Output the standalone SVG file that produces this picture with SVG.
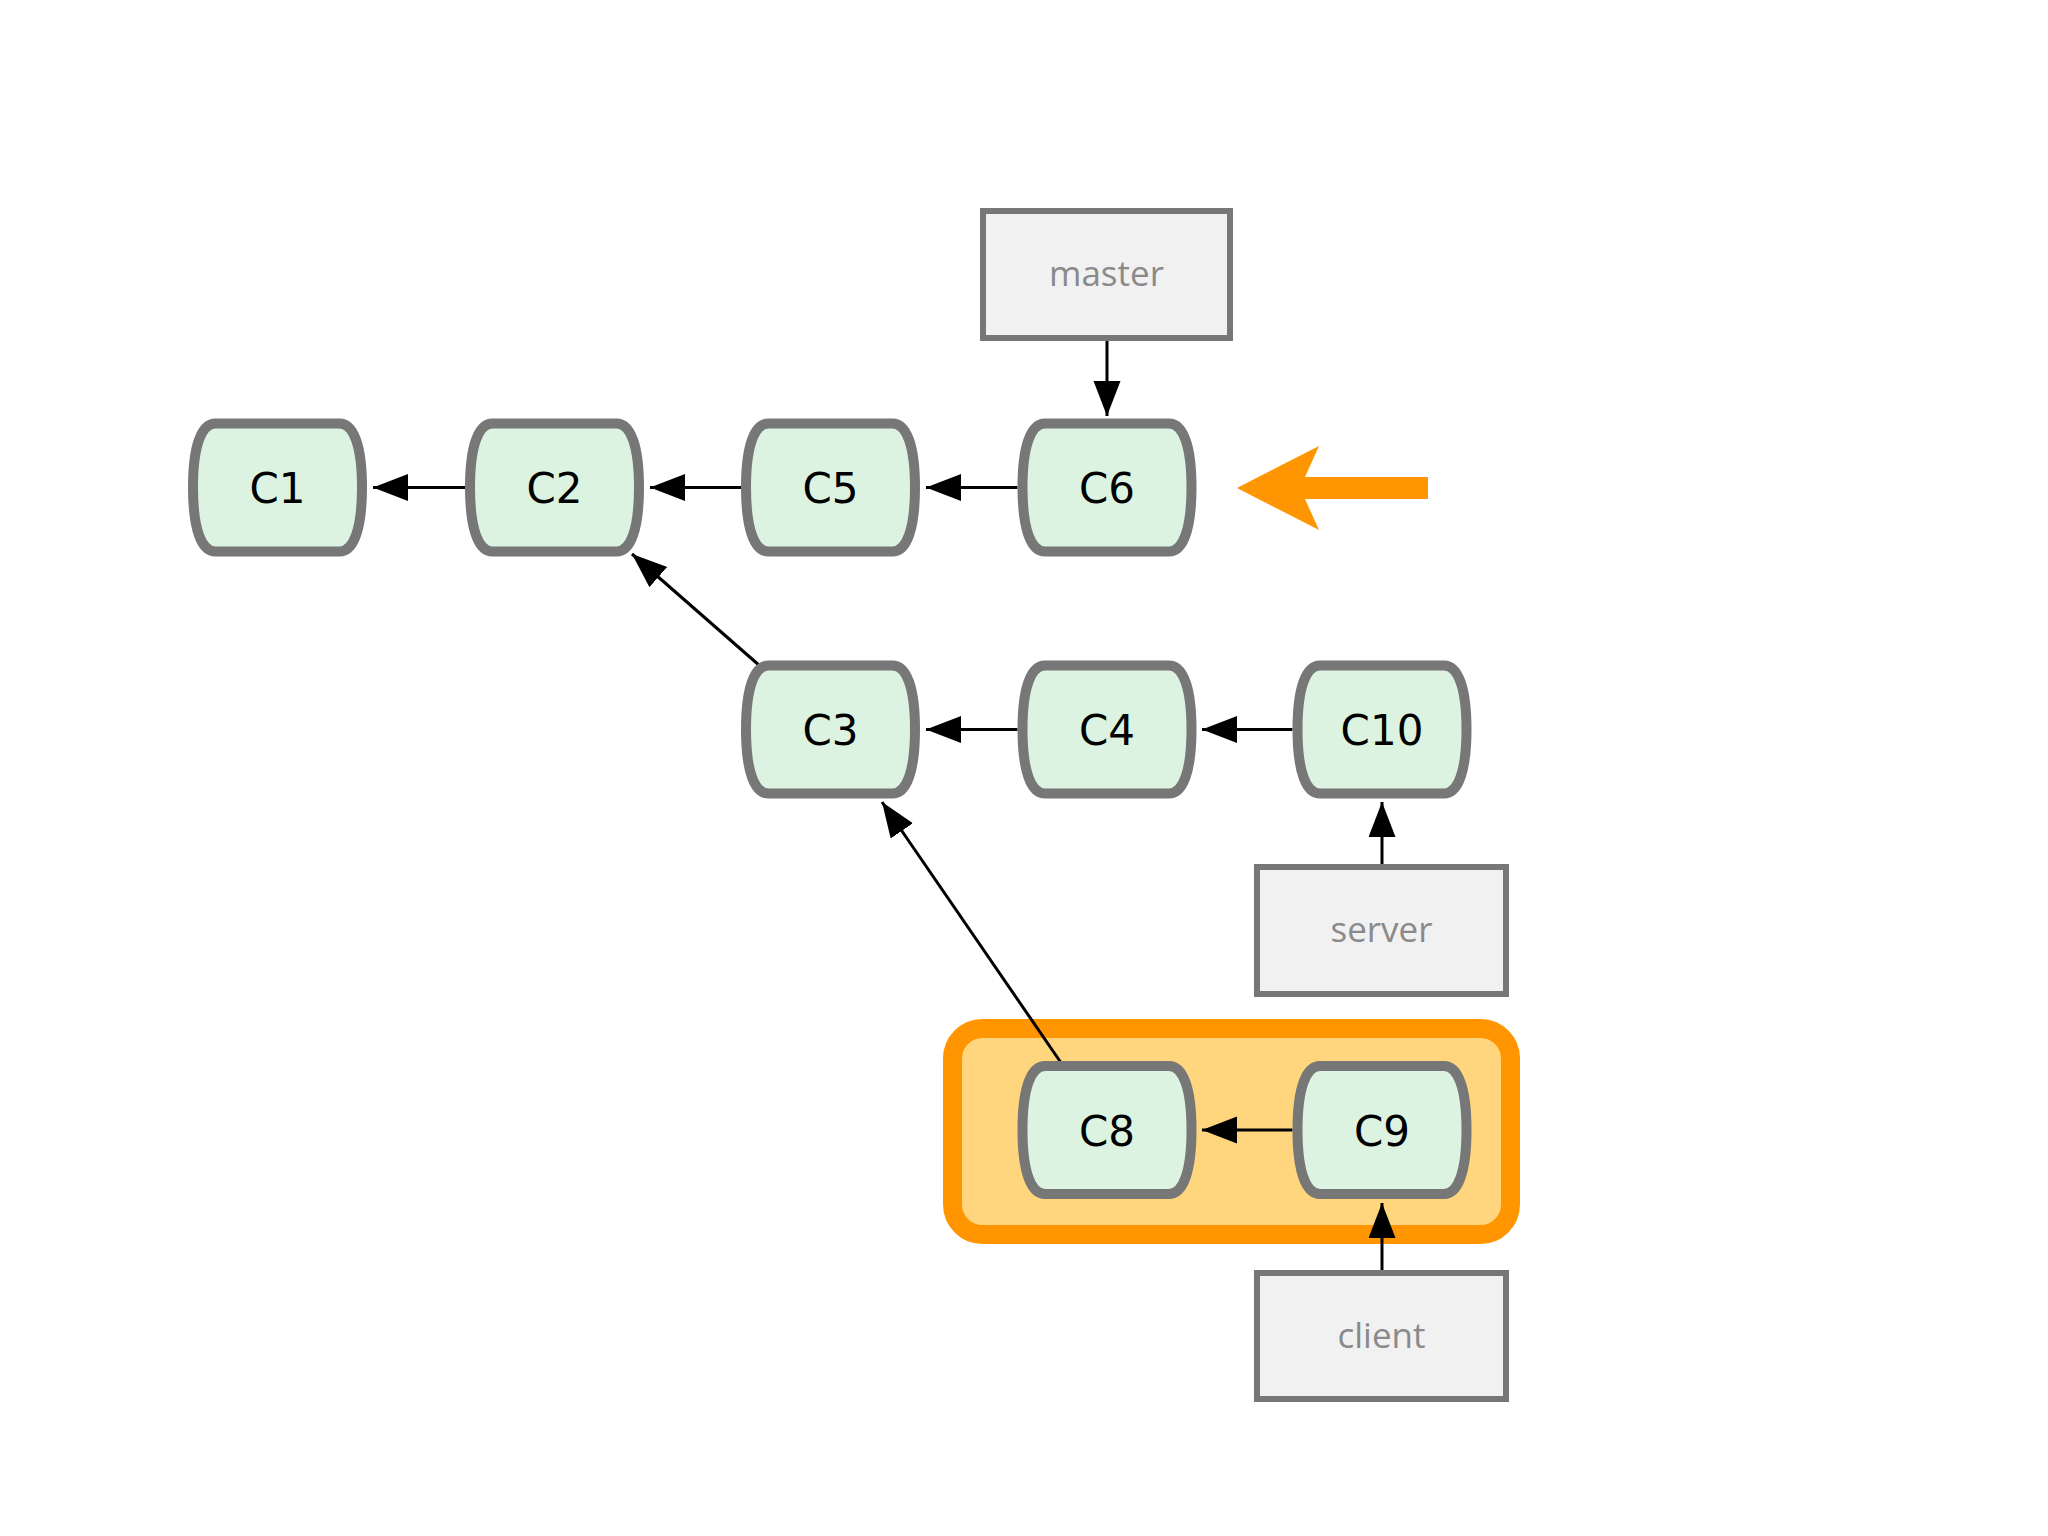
<svg xmlns="http://www.w3.org/2000/svg" width="2048" height="1536" viewBox="0 0 2048 1536">
  <style>
    .commit use { fill: #dbf3e0; stroke: #777777; stroke-width: 10; }
    .commit text { font-family: "DejaVu Sans", sans-serif; font-size: 42px; fill: #000000; text-anchor: middle; }
    .ref rect { fill: #f1f1f2; stroke: #777777; stroke-width: 6; }
    .ref text { font-family: "Open Sans", "DejaVu Sans", sans-serif; font-size: 35px; fill: #8a8a8a; text-anchor: middle; }
    .conn line { stroke: #000000; stroke-width: 3; fill: none; marker-end: url(#arrow); }
  </style>
  <defs>
    <marker id="arrow" markerUnits="userSpaceOnUse" markerWidth="36" markerHeight="28" refX="35" refY="13.5" orient="auto">
      <path d="M0,0 L35,13.5 L0,27 Z" fill="#000000"/>
    </marker>
    <path id="barrel" d="M-62,-64 L62,-64 C76,-64 84.5,-42 84.5,0 C84.5,42 76,64 62,64 L-62,64 C-76,64 -84.5,42 -84.5,0 C-84.5,-42 -76,-64 -62,-64 Z"/>
  </defs>
  <rect width="2048" height="1536" fill="#ffffff"/>

  <g id="highlight">
    <rect x="952.5" y="1028.5" width="558" height="206" rx="30" ry="30" fill="#ffd67e" stroke="#ff9500" stroke-width="19"/>
  </g>

  <g id="orange-arrow">
    <polygon points="1237,488 1319,446 1305,477 1428,477 1428,499 1305,499 1319,530" fill="#ff9500"/>
  </g>

  <g id="connectors" class="conn">
    <line x1="465" y1="487.5" x2="373" y2="487.5"/>
    <line x1="741" y1="487.5" x2="650" y2="487.5"/>
    <line x1="1017.5" y1="487.5" x2="926" y2="487.5"/>
    <line x1="1107" y1="341" x2="1107" y2="416"/>
    <line x1="760" y1="666" x2="632" y2="554"/>
    <line x1="1017.5" y1="729.5" x2="926" y2="729.5"/>
    <line x1="1292.5" y1="729.5" x2="1202" y2="729.5"/>
    <line x1="1382" y1="864" x2="1382" y2="802"/>
    <line x1="1060.5" y1="1062" x2="882" y2="802"/>
    <line x1="1292.5" y1="1130" x2="1202" y2="1130"/>
    <line x1="1382" y1="1270" x2="1382" y2="1203"/>
  </g>

  <g id="C1" class="commit" transform="translate(277.5,487.5)"><use href="#barrel"/><text x="0" y="15.5">C1</text></g>
  <g id="C2" class="commit" transform="translate(554.5,487.5)"><use href="#barrel"/><text x="0" y="15.5">C2</text></g>
  <g id="C5" class="commit" transform="translate(830.5,487.5)"><use href="#barrel"/><text x="0" y="15.5">C5</text></g>
  <g id="C6" class="commit" transform="translate(1107,487.5)"><use href="#barrel"/><text x="0" y="15.5">C6</text></g>
  <g id="C3" class="commit" transform="translate(830.5,729.5)"><use href="#barrel"/><text x="0" y="15.5">C3</text></g>
  <g id="C4" class="commit" transform="translate(1107,729.5)"><use href="#barrel"/><text x="0" y="15.5">C4</text></g>
  <g id="C10" class="commit" transform="translate(1382,729.5)"><use href="#barrel"/><text x="0" y="15.5">C10</text></g>
  <g id="C8" class="commit" transform="translate(1107,1130)"><use href="#barrel"/><text x="0" y="15.5">C8</text></g>
  <g id="C9" class="commit" transform="translate(1382,1130)"><use href="#barrel"/><text x="0" y="15.5">C9</text></g>

  <g id="master" class="ref"><rect x="983" y="211" width="247" height="127"/><text x="1106.5" y="286">master</text></g>
  <g id="server" class="ref"><rect x="1257" y="867" width="249" height="127"/><text x="1381.5" y="942">server</text></g>
  <g id="client" class="ref"><rect x="1257" y="1273" width="249" height="126"/><text x="1381.5" y="1348">client</text></g>
</svg>
